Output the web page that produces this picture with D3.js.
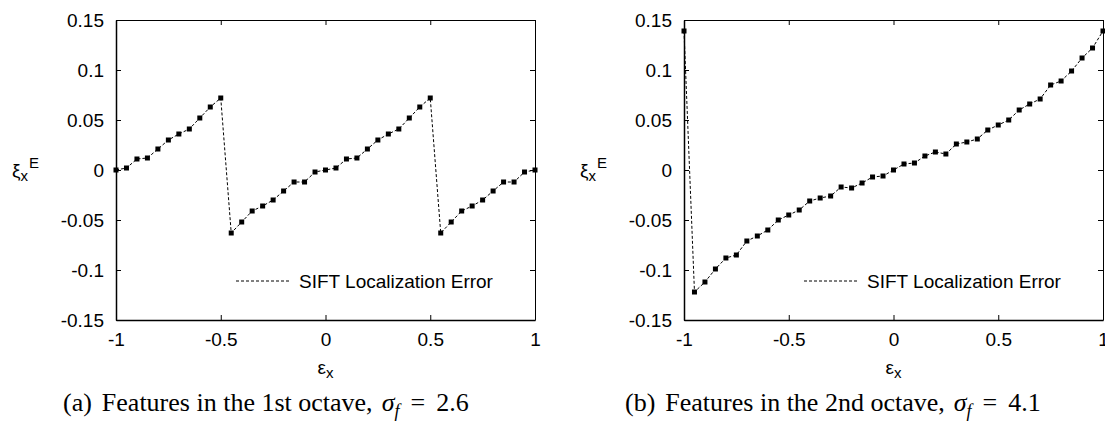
<!DOCTYPE html>
<html>
<head>
<meta charset="utf-8">
<script src="https://cdn.jsdelivr.net/npm/d3@7"></script>
<style>
  html, body { margin: 0; padding: 0; background: #fff; }
  svg { display: block; }
  .tick text { font-family: "Liberation Sans", Arial, sans-serif; font-size: 19px; fill: #000; }
</style>
</head>
<body>
<svg id="chart" width="1105" height="421"></svg>
<script>
// ---- data ----
const epsX = [-1, -0.95, -0.9, -0.85, -0.8, -0.75, -0.7, -0.65, -0.6, -0.55, -0.5,
              -0.45, -0.4, -0.35, -0.3, -0.25, -0.2, -0.15, -0.1, -0.05, 0,
              0.05, 0.1, 0.15, 0.2, 0.25, 0.3, 0.35, 0.4, 0.45, 0.5,
              0.55, 0.6, 0.65, 0.7, 0.75, 0.8, 0.85, 0.9, 0.95, 1];
const errOctave1 = [0, 0.002, 0.011, 0.012, 0.021, 0.030, 0.036, 0.041, 0.052, 0.063, 0.072,
                    -0.063, -0.052, -0.041, -0.036, -0.030, -0.021, -0.012, -0.012, -0.002, 0,
                    0.002, 0.011, 0.012, 0.021, 0.030, 0.036, 0.041, 0.052, 0.063, 0.072,
                    -0.063, -0.052, -0.041, -0.036, -0.030, -0.021, -0.012, -0.012, -0.002, 0];
const errOctave2 = [0.139, -0.122, -0.112, -0.099, -0.088, -0.085, -0.071, -0.066, -0.060, -0.050, -0.045,
                    -0.040, -0.031, -0.028, -0.026, -0.017, -0.018, -0.013, -0.007, -0.006, 0,
                    0.006, 0.007, 0.014, 0.018, 0.016, 0.026, 0.028, 0.031, 0.040, 0.045,
                    0.050, 0.060, 0.066, 0.071, 0.085, 0.089, 0.099, 0.112, 0.122, 0.139];
const xTicks = [-1, -0.5, 0, 0.5, 1];
const xTickLabels = ["-1", "-0.5", "0", "0.5", "1"];
const yTicks = [-0.15, -0.1, -0.05, 0, 0.05, 0.1, 0.15];
const yTickLabels = ["-0.15", "-0.1", "-0.05", "0", "0.05", "0.1", "0.15"];
const legendLabel = "SIFT Localization Error";
const panels = [
  { values: errOctave1, left: 116, tag: "(a)", text: "Features in the 1st octave,", sigma: "2.6", capX: 63 },
  { values: errOctave2, left: 684, tag: "(b)", text: "Features in the 2nd octave,", sigma: "4.1", capX: 625 }
];

const svg = d3.select("#chart");
const plotW = 419, plotTop = 20, plotBottom = 320;

panels.forEach(p => {
  const x = d3.scaleLinear().domain([-1, 1]).range([p.left, p.left + plotW]);
  const y = d3.scaleLinear().domain([-0.15, 0.15]).range([plotBottom, plotTop]);
  const g = svg.append("g");

  const fmtX = d => xTickLabels[xTicks.indexOf(d)];
  const fmtY = d => yTickLabels[yTicks.indexOf(d)];

  // top and right (thin)
  g.append("g").attr("transform", `translate(0,${plotTop})`)
    .call(d3.axisTop(x).tickValues(xTicks).tickFormat("").tickSizeInner(-5).tickSizeOuter(0))
    .call(a => a.selectAll("path,line").attr("stroke", "#000").attr("stroke-width", 1));
  g.append("g").attr("transform", `translate(${p.left + plotW},0)`)
    .call(d3.axisRight(y).tickValues(yTicks).tickFormat("").tickSizeInner(-5).tickSizeOuter(0))
    .call(a => a.selectAll("path,line").attr("stroke", "#000").attr("stroke-width", 1));
  // bottom and left
  g.append("g").attr("transform", `translate(0,${plotBottom})`)
    .call(d3.axisBottom(x).tickValues(xTicks).tickFormat(fmtX).tickSizeInner(-5).tickSizeOuter(0).tickPadding(13))
    .call(a => a.select("path").attr("stroke", "#000").attr("stroke-width", 1.5))
    .call(a => a.selectAll("line").attr("stroke", "#000").attr("stroke-width", 1));
  g.append("g").attr("transform", `translate(${p.left},0)`)
    .call(d3.axisLeft(y).tickValues(yTicks).tickFormat(fmtY).tickSizeInner(-5).tickSizeOuter(0).tickPadding(12))
    .call(a => a.select("path").attr("stroke", "#000").attr("stroke-width", 1.5))
    .call(a => a.selectAll("line").attr("stroke", "#000").attr("stroke-width", 1));
  g.selectAll(".domain").attr("fill", "none");

  // line
  const line = d3.line().x((d, i) => x(epsX[i])).y(d => y(d));
  g.append("path").datum(p.values)
    .attr("d", line).attr("fill", "none").attr("stroke", "#000")
    .attr("stroke-width", 1).attr("stroke-dasharray", "3,2");
  // markers
  g.selectAll("rect.pt").data(p.values).join("rect").attr("class", "pt")
    .attr("x", (d, i) => x(epsX[i]) - 2.5).attr("y", d => y(d) - 2.5)
    .attr("width", 5).attr("height", 5).attr("fill", "#000");

  // legend
  const ly = 281;
  g.append("line").attr("x1", p.left + 120).attr("x2", p.left + 174)
    .attr("y1", ly).attr("y2", ly).attr("stroke", "#000").attr("stroke-width", 1)
    .attr("stroke-dasharray", "3,2");
  g.append("text").attr("x", p.left + 183).attr("y", ly).attr("dy", "0.35em")
    .attr("font-family", "Liberation Sans, Arial, sans-serif").attr("font-size", 19)
    .text(legendLabel);

  // y label  ξ_x^E
  const yl = g.append("text").attr("x", p.left - 104).attr("y", 177)
    .attr("font-family", "Liberation Sans, Arial, sans-serif").attr("font-size", 19);
  yl.append("tspan").text("ξ");
  yl.append("tspan").attr("font-size", 15).attr("dy", 4).text("x");
  yl.append("tspan").attr("font-size", 15).attr("dy", -13).attr("dx", 1).text("E");

  // x label ε_x
  const xl = g.append("text").attr("x", x(0) - 8).attr("y", 374)
    .attr("font-family", "Liberation Sans, Arial, sans-serif").attr("font-size", 19);
  xl.append("tspan").text("ε");
  xl.append("tspan").attr("font-size", 15).attr("dy", 4).text("x");

  // caption
  const cap = g.append("text").attr("x", p.capX).attr("y", 411)
    .attr("font-family", "Liberation Serif, Times New Roman, serif").attr("font-size", 26);
  cap.append("tspan").text(p.tag);
  cap.append("tspan").attr("dx", 10).text(p.text);
  cap.append("tspan").attr("dx", 9).attr("font-style", "italic").text("σ");
  cap.append("tspan").attr("font-size", 18).attr("font-style", "italic").attr("dy", 6).text("f");
  cap.append("tspan").attr("dy", -6).attr("dx", 11).text("=");
  cap.append("tspan").attr("dx", 11).text(p.sigma);
});
</script>
</body>
</html>
